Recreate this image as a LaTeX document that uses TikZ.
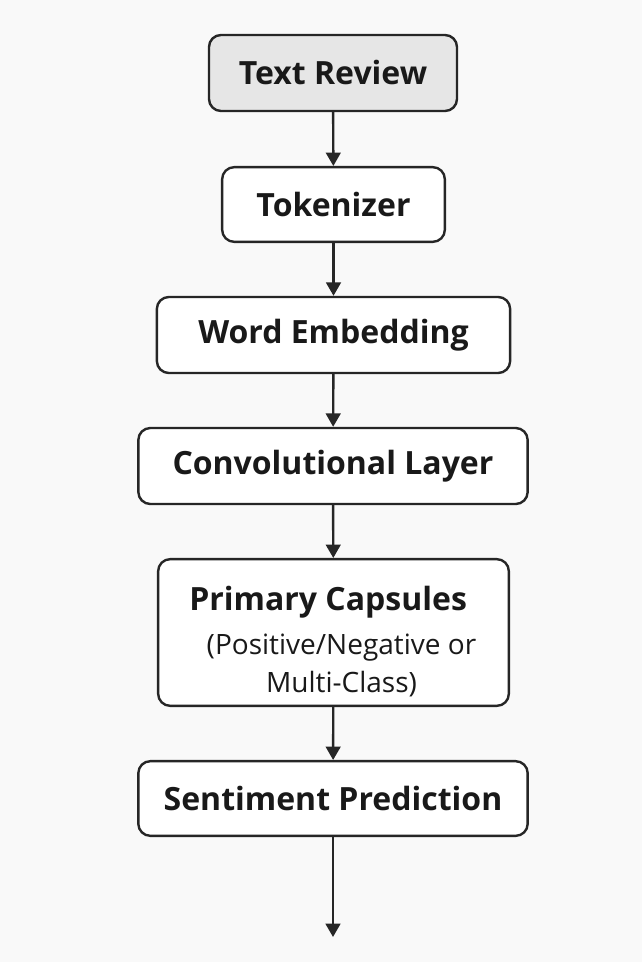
\documentclass[tikz,border=0pt]{standalone}
\usepackage{fontspec}
\setmainfont{Open Sans}
\usepackage{tikz}
\usetikzlibrary{calc,positioning,arrows.meta}
\definecolor{bgcol}{HTML}{F9F9F9}
\definecolor{headcol}{HTML}{E6E6E6}
\tikzset{
  wire/.style={line width=1.8pt, draw=black!85},
  flow/.style={wire, -{Triangle[length=10pt,width=11pt]}},
  box/.style={draw=black!85, line width=1.8pt, fill=white, rounded corners=9pt, inner sep=2pt,
    font=\fontsize{24}{28}\selectfont\bfseries, text=black!90},
  headbox/.style={box, fill=headcol}
}

\begin{document}
\begin{tikzpicture}[x=0.75pt,y=-0.75pt]
  \fill[bgcol] (0,0) rectangle (642,962);
  \useasboundingbox (0,0) rectangle (642,962);
  \node[headbox, minimum width=186pt, minimum height=57pt] (rev) at (333,73) {Text Review};
  \node[box, minimum width=167pt, minimum height=56pt] (tok) at (333.5,204.5) {Tokenizer};
  \node[box, minimum width=265pt, minimum height=57pt] (emb) at (333.5,335) {Word Embedding};
  \node[box, minimum width=292pt, minimum height=57pt] (conv) at (333,466) {Convolutional Layer};
  \node[box, minimum width=263pt, minimum height=110pt, align=center] (caps) at (333.5,632.5)
    {\rule{0pt}{32pt}\hspace*{-8pt}Primary Capsules\\[5pt]
     {\fontsize{21}{27}\selectfont\mdseries\hspace*{12pt}(Positive/Negative or}\\
     {\fontsize{21}{27}\selectfont\mdseries\hspace*{12pt}Multi-Class)}};
  \node[box, minimum width=292pt, minimum height=56pt] (pred) at (333,798.5) {Sentiment Prediction};
  \coordinate (out) at (333,937);
  \draw[flow] (rev) -- (tok);
  \draw[flow] (tok) -- (emb);
  \draw[flow] (emb) -- (conv);
  \draw[flow] (conv) -- (caps);
  \draw[flow] (caps) -- (pred);
  \draw[flow] (pred) -- (out);
\end{tikzpicture}
\end{document}
